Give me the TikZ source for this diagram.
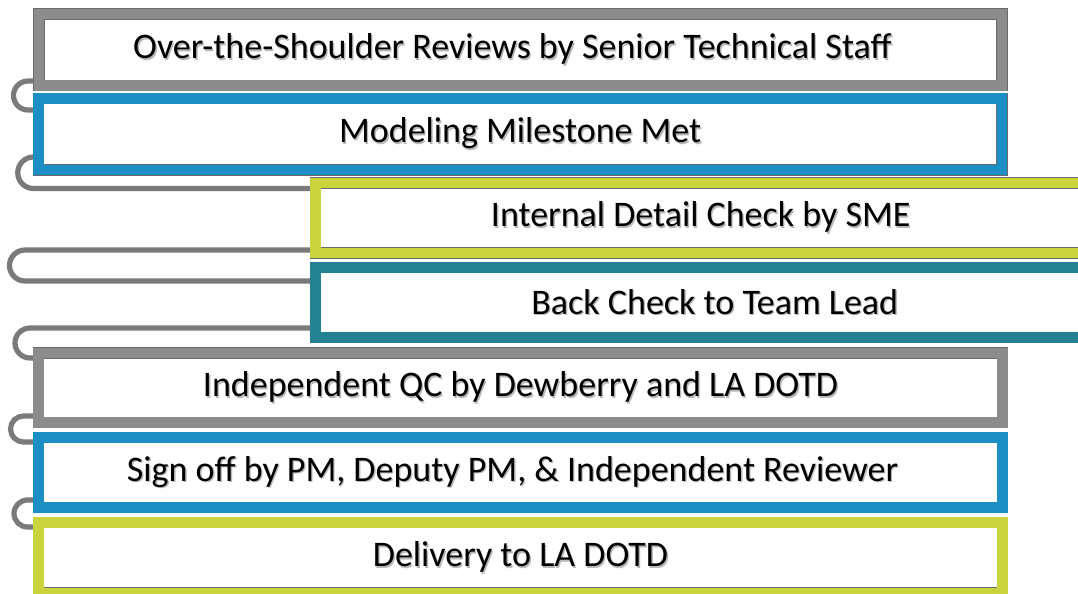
\documentclass[tikz,border=0pt]{standalone}
\usepackage{fontspec}
\setmainfont{Carlito}
\usetikzlibrary{backgrounds}
\definecolor{bgray}{RGB}{140,140,140}
\definecolor{bblue}{RGB}{28,142,196}
\definecolor{bteal}{RGB}{36,131,146}
\definecolor{byell}{RGB}{202,213,62}
\definecolor{edge}{RGB}{105,105,110}
\definecolor{loopc}{RGB}{122,122,122}
\newlength\px
\setlength\px{0.75pt}
\newcommand\shtext[1]{\makebox[0pt][l]{\raisebox{-1pt}{\hspace{1pt}\textcolor{black!28}{#1}}}#1}
\tikzset{
  stage/.style={rectangle, draw=edge, line width=0.45pt, double distance=8pt,
    outer sep=0pt, inner sep=0pt, fill=white, font=\fontsize{27}{31}\selectfont, text=black},
  sgray/.style={stage, double=bgray},
  sblue/.style={stage, double=bblue},
  steal/.style={stage, double=bteal},
  syell/.style={stage, double=byell},
  loopline/.style={draw=loopc, line width=3.9pt}
}
\begin{document}
\begin{tikzpicture}[x=0.75pt,y=-0.75pt]
\useasboundingbox (0,0) rectangle (1078,593);
% boxes
\node[sgray, minimum width=963\px, minimum height=71.5\px] (b1) at (520.5,49.75) {\shtext{Over-the-Shoulder Reviews by Senior Technical Staff}\hspace*{12pt}};
\node[sblue, minimum width=963.5\px, minimum height=71.5\px] (b2) at (520.25,134.25) {\shtext{Modeling Milestone Met}};
\node[syell, minimum width=770.5\px, minimum height=70\px] (b3) at (700.75,218) {\shtext{Internal Detail Check by SME}};
\node[steal, minimum width=798.5\px, minimum height=70\px] (b4) at (714.75,302.5) {\shtext{Back Check to Team Lead}};
\node[sgray, minimum width=964\px, minimum height=69.5\px] (b5) at (520.5,387.75) {\shtext{Independent QC by Dewberry and LA DOTD}};
\node[sblue, minimum width=964\px, minimum height=70\px] (b6) at (520.5,472.5) {\shtext{Sign off by PM, Deputy PM, \& Independent Reviewer}\hspace*{12pt}};
\node[syell, minimum width=964\px, minimum height=70.5\px] (b7) at (520.5,557.75) {\shtext{Delivery to LA DOTD}};
% loops
\begin{scope}[on background layer]
\draw[loopline] ([yshift=3.375pt]b1.south west) -- ++(-11,0)
  arc[start angle=270, end angle=90, radius=14.5] -- ([yshift=-8.625pt]b2.north west);
\draw[loopline] ([yshift=9.75pt]b2.south west) -- ++(-5,0)
  arc[start angle=270, end angle=90, radius=15.75] -- ([yshift=22.125pt]b3.west);
\draw[loopline] ([yshift=2.25pt]b3.south west) -- ++(-290.5,0)
  arc[start angle=270, end angle=90, radius=15.5] -- ([yshift=16.125pt]b4.west);
\draw[loopline] ([yshift=7.125pt]b4.south west) -- ++(-285.5,0)
  arc[start angle=270, end angle=90, radius=15] -- ([yshift=-3.75pt]b5.north west);
\draw[loopline] ([yshift=4.875pt]b5.south west) -- ++(-15,0)
  arc[start angle=270, end angle=90, radius=13] -- ([yshift=-3.375pt]b6.north west);
\draw[loopline] ([yshift=5.625pt]b6.south west) -- ++(-11,0)
  arc[start angle=270, end angle=90, radius=13.5] -- ([yshift=-3.375pt]b7.north west);
\end{scope}
\end{tikzpicture}
\end{document}
